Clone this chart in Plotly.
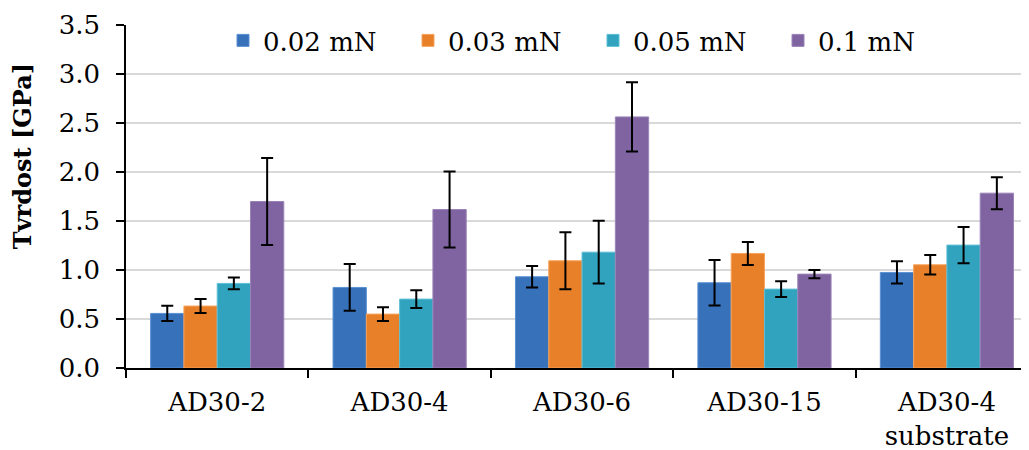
import plotly.graph_objects as go

categories = ["AD30-2", "AD30-4", "AD30-6", "AD30-15", "AD30-4<br>substrate"]
series_names = ["0.02 mN", "0.03 mN", "0.05 mN", "0.1 mN"]

vals_002 = [0.557, 0.822, 0.931, 0.870, 0.975]
vals_003 = [0.632, 0.550, 1.094, 1.169, 1.053]
vals_005 = [0.863, 0.703, 1.182, 0.805, 1.254]
vals_01 = [1.699, 1.617, 2.562, 0.958, 1.784]

err_002 = [0.078, 0.238, 0.110, 0.233, 0.114]
err_003 = [0.072, 0.070, 0.290, 0.117, 0.099]
err_005 = [0.060, 0.090, 0.320, 0.080, 0.185]
err_01 = [0.444, 0.388, 0.353, 0.043, 0.163]

y_ticks = [0.0, 0.5, 1.0, 1.5, 2.0, 2.5, 3.0, 3.5]
y_title = "Tvrdost [GPa]"

colors = ["#3671b9", "#e8802a", "#31a3be", "#8064a2"]
edges = ["#5a90d4", "#f7a25a", "#5cbfd6", "#9a83b8"]

FONT = "DejaVu Serif"
FS = 26

# page body has an 8px default margin; the figure is sized so that it ends at the window edge
OFF = 8

fig = go.Figure()
for name, vals, errs, c, e in zip(series_names,
                                   [vals_002, vals_003, vals_005, vals_01],
                                   [err_002, err_003, err_005, err_01],
                                   colors, edges):
    fig.add_trace(go.Bar(
        name=name, x=categories, y=vals,
        marker=dict(color=c, line=dict(color=e, width=1)),
        error_y=dict(type="data", array=errs, visible=True,
                     color="black", thickness=2, width=6),
    ))

fig.update_layout(
    width=1029 - OFF, height=450 - OFF,
    margin=dict(l=126 - OFF, r=0, t=25 - OFF, b=82, autoexpand=False),
    paper_bgcolor="white", plot_bgcolor="white",
    barmode="group", bargap=0.27, bargroupgap=0,
    font=dict(family=FONT, size=FS, color="black"),
    legend=dict(orientation="h", xref="paper", yref="paper",
                x=(223 - 126) / 903, y=(368 - 40) / 343.5,
                xanchor="left", yanchor="middle",
                entrywidth=140, entrywidthmode="pixels",
                font=dict(family=FONT, size=FS, color="black"),
                bgcolor="rgba(0,0,0,0)", tracegroupgap=0),
    xaxis=dict(range=[-0.5, 4.45], showline=True, linecolor="black", linewidth=1.5,
               ticks="outside", tickson="boundaries", ticklen=8, tickwidth=1.5,
               tickcolor="black", showgrid=False, ticklabelstandoff=10,
               tickfont=dict(family=FONT, size=FS, color="black")),
    yaxis=dict(range=[0, 3.5], tickvals=y_ticks, ticktext=[f"{v:.1f}" for v in y_ticks],
               showline=True, linecolor="black", linewidth=1.5,
               ticks="outside", ticklen=8, tickwidth=1.5, tickcolor="black",
               showgrid=True, gridcolor="#d9d9d9", gridwidth=2,
               zeroline=False, ticklabelstandoff=11,
               tickfont=dict(family=FONT, size=FS, color="black")),
    annotations=[dict(text="<b>" + y_title + "</b>", xref="paper", yref="paper",
                      x=(22 - 126) / 903, y=(368 - 156) / 343.5,
                      xanchor="center", yanchor="middle", textangle=-90,
                      showarrow=False,
                      font=dict(family=FONT, size=24, color="black"))],
)

fig.write_html("out.html")
